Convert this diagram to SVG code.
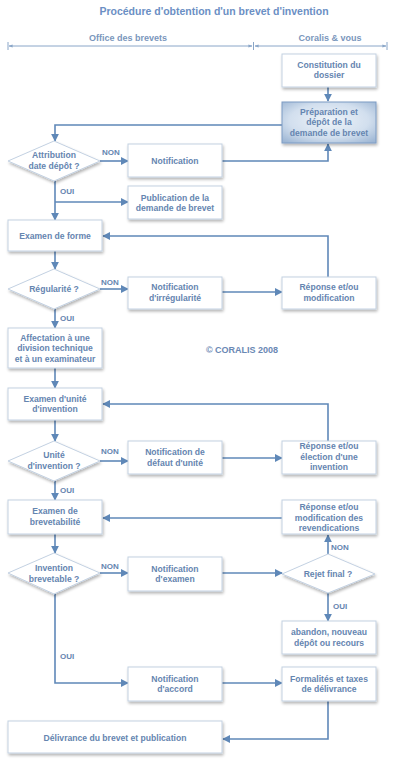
<svg xmlns="http://www.w3.org/2000/svg" width="400" height="765" viewBox="0 0 400 765">
<style>
text{font-family:"Liberation Sans",Arial,sans-serif;font-weight:bold;fill:#6585b0;font-size:8.6px;text-anchor:middle}
.title{font-size:10.5px;fill:#6b8fc4}
.hdr{font-size:9px;fill:#7a96bc}
.lbl{font-size:8px;text-anchor:start;fill:#6585b0}
.box{fill:#ffffff;stroke:#c3d1e2;stroke-width:1;filter:url(#sh)}
.prep{fill:url(#pg);stroke:#7d9cc4;stroke-width:1;filter:url(#sh)}
.con{fill:none;stroke:#5f88b8;stroke-width:1.6;marker-end:url(#ah)}
.conn{fill:none;stroke:#5f88b8;stroke-width:1.6}
</style>
<defs>
<filter id="sh" x="-20%" y="-20%" width="140%" height="150%">
<feGaussianBlur in="SourceAlpha" stdDeviation="1.6"/>
<feOffset dx="0.5" dy="1.5" result="b"/>
<feComponentTransfer><feFuncA type="linear" slope="0.3"/></feComponentTransfer>
<feMerge><feMergeNode/><feMergeNode in="SourceGraphic"/></feMerge>
</filter>
<radialGradient id="pg" cx="50%" cy="45%" r="70%">
<stop offset="0" stop-color="#eef3f9"/>
<stop offset="0.6" stop-color="#d2dfee"/>
<stop offset="1" stop-color="#9db6d4"/>
</radialGradient>
<marker id="ah" viewBox="0 0 10 10" refX="9" refY="5" markerWidth="5" markerHeight="5" orient="auto" markerUnits="strokeWidth">
<path d="M0,0 L10,5 L0,10 z" fill="#5f88b8"/>
</marker>
<marker id="hm" viewBox="0 0 10 10" refX="9" refY="5" markerWidth="4" markerHeight="4" orient="auto-start-reverse" markerUnits="strokeWidth">
<path d="M0,1 L10,5 L0,9 z" fill="#8aa6c8"/>
</marker>
</defs>
<rect width="400" height="765" fill="#ffffff"/>
<text class="title" x="214" y="15">Procédure d'obtention d'un brevet d'invention</text>
<g id="header">
<text class="hdr" x="128" y="41">Office des brevets</text>
<text class="hdr" x="330" y="41">Coralis &amp; vous</text>
<line x1="9" y1="46" x2="252" y2="46" stroke="#8aa6c8" stroke-width="1" marker-start="url(#hm)" marker-end="url(#hm)"/>
<line x1="255" y1="46" x2="386" y2="46" stroke="#8aa6c8" stroke-width="1" marker-start="url(#hm)" marker-end="url(#hm)"/>
<line x1="8" y1="42" x2="8" y2="50" stroke="#8aa6c8" stroke-width="1"/>
<line x1="253.5" y1="42" x2="253.5" y2="50" stroke="#8aa6c8" stroke-width="1"/>
<line x1="387" y1="42" x2="387" y2="50" stroke="#8aa6c8" stroke-width="1"/>
</g>
<text x="242" y="353" style="font-size:9px;fill:#6a88b4">© CORALIS 2008</text>
<g id="connectors">
<path class="con" d="M328,87 V101"/>
<path class="con" d="M282,125 H55 V141"/>
<path class="con" d="M100,161 H128"/>
<path class="con" d="M222,161 H328 V144"/>
<path class="con" d="M55,181 V220"/>
<path class="con" d="M55,202 H128"/>
<path class="con" d="M55,251 V269"/>
<path class="con" d="M100,289 H128"/>
<path class="con" d="M222,292 H282"/>
<path class="con" d="M328,277 V236 H103"/>
<path class="con" d="M55,309 V328"/>
<path class="con" d="M55,368 V388"/>
<path class="con" d="M328,441 V404 H103"/>
<path class="con" d="M55,420 V441"/>
<path class="con" d="M100,461 H128"/>
<path class="con" d="M222,458 H282"/>
<path class="con" d="M55,481 V500"/>
<path class="con" d="M282,518 H103"/>
<path class="con" d="M55,534 V553"/>
<path class="con" d="M100,573 H128"/>
<path class="con" d="M222,573 H282"/>
<path class="con" d="M328,554 V535"/>
<path class="con" d="M328,593 V621"/>
<path class="con" d="M55,594 V683 H128"/>
<path class="con" d="M222,683 H282"/>
<path class="con" d="M328,701 V739 H223"/>
<text class="lbl" x="102" y="155">NON</text>
<text class="lbl" x="60" y="194">OUI</text>
<text class="lbl" x="101" y="285">NON</text>
<text class="lbl" x="60" y="321">OUI</text>
<text class="lbl" x="101" y="454">NON</text>
<text class="lbl" x="60" y="493">OUI</text>
<text class="lbl" x="101" y="569">NON</text>
<text class="lbl" x="331" y="550">NON</text>
<text class="lbl" x="333" y="609">OUI</text>
<text class="lbl" x="60" y="659">OUI</text>
</g>
<g id="n-constitution"><rect class="box" x="282" y="54" width="94" height="33"/><text x="329" y="67.5">Constitution du</text><text x="329" y="78">dossier</text></g>
<g id="n-preparation"><rect class="prep" x="282" y="102" width="94" height="41"/><text x="329" y="114.5">Préparation et</text><text x="329" y="125">dépôt de la</text><text x="329" y="135.5">demande de brevet</text></g>
<g id="d-attribution"><path class="box" d="M8,161 L54,141 L100,161 L54,181 z"/><text x="54" y="158">Attribution</text><text x="54" y="168.5">date dépôt ?</text></g>
<g id="n-notification"><rect class="box" x="128" y="144" width="94" height="33"/><text x="175" y="164">Notification</text></g>
<g id="n-publication"><rect class="box" x="128" y="186" width="94" height="33"/><text x="175" y="200.5">Publication de la</text><text x="175" y="211">demande de brevet</text></g>
<g id="n-examen-forme"><rect class="box" x="8" y="220" width="94" height="31"/><text x="55" y="238.5">Examen de forme</text></g>
<g id="d-regularite"><path class="box" d="M8,289 L54,269 L100,289 L54,309 z"/><text x="54" y="292">Régularité ?</text></g>
<g id="n-notif-irreg"><rect class="box" x="128" y="277" width="94" height="32"/><text x="175" y="290">Notification</text><text x="175" y="300.5">d'irrégularité</text></g>
<g id="n-reponse1"><rect class="box" x="282" y="277" width="94" height="32"/><text x="329" y="290">Réponse et/ou</text><text x="329" y="300.5">modification</text></g>
<g id="n-affectation"><rect class="box" x="8" y="328" width="94" height="40"/><text x="55" y="340.5">Affectation à une</text><text x="55" y="351">division technique</text><text x="55" y="361.5">et à un examinateur</text></g>
<g id="n-examen-unite"><rect class="box" x="8" y="388" width="94" height="32"/><text x="55" y="401.5">Examen d'unité</text><text x="55" y="412">d'invention</text></g>
<g id="d-unite"><path class="box" d="M8,461 L54,441 L100,461 L54,481 z"/><text x="54" y="458">Unité</text><text x="54" y="468.5">d'invention ?</text></g>
<g id="n-notif-defaut"><rect class="box" x="128" y="441" width="94" height="33"/><text x="175" y="455">Notification de</text><text x="175" y="465.5">défaut d'unité</text></g>
<g id="n-reponse2"><rect class="box" x="282" y="441" width="94" height="33"/><text x="329" y="449">Réponse et/ou</text><text x="329" y="459.5">élection d'une</text><text x="329" y="470">invention</text></g>
<g id="n-examen-brev"><rect class="box" x="8" y="500" width="94" height="34"/><text x="55" y="514">Examen de</text><text x="55" y="524.5">brevetabilité</text></g>
<g id="n-reponse3"><rect class="box" x="282" y="500" width="94" height="34"/><text x="329" y="510">Réponse et/ou</text><text x="329" y="520.5">modification des</text><text x="329" y="531">revendications</text></g>
<g id="d-invention"><path class="box" d="M8,573 L54,553 L100,573 L54,594 z"/><text x="54" y="571">Invention</text><text x="54" y="581.5">brevetable ?</text></g>
<g id="n-notif-examen"><rect class="box" x="128" y="557" width="94" height="34"/><text x="175" y="571.5">Notification</text><text x="175" y="582">d'examen</text></g>
<g id="d-rejet"><path class="box" d="M282,574 L328,554 L375,574 L328,593 z"/><text x="328" y="577">Rejet final ?</text></g>
<g id="n-abandon"><rect class="box" x="282" y="621" width="94" height="33"/><text x="329" y="635">abandon, nouveau</text><text x="329" y="645.5">dépôt ou recours</text></g>
<g id="n-notif-accord"><rect class="box" x="128" y="667" width="94" height="34"/><text x="175" y="681.5">Notification</text><text x="175" y="692">d'accord</text></g>
<g id="n-formalites"><rect class="box" x="282" y="667" width="94" height="34"/><text x="329" y="681.5">Formalités et taxes</text><text x="329" y="692">de délivrance</text></g>
<g id="n-delivrance"><rect class="box" x="8" y="721" width="214" height="32"/><text x="115" y="741">Délivrance du brevet et publication</text></g>
</svg>
